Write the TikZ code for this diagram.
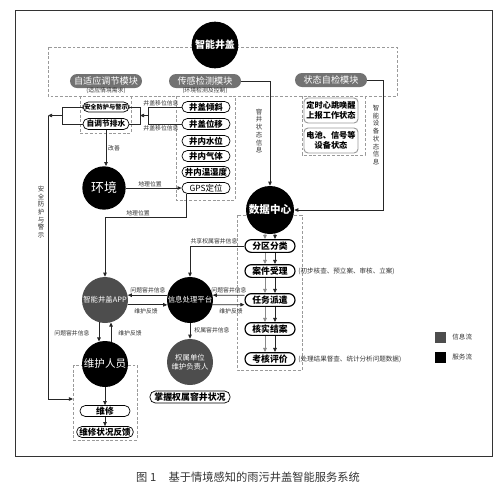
\documentclass[tikz,border=0pt]{standalone}
\usepackage{fontspec}
\setmainfont{Noto Sans CJK SC}
\usetikzlibrary{arrows.meta,calc}
\definecolor{modgray}{HTML}{727272}
\definecolor{cgray}{HTML}{4D4D4D}
\definecolor{agray}{HTML}{8A8A8A}
\definecolor{dgray}{HTML}{9A9A9A}
\definecolor{txtgray}{HTML}{333333}
\newcommand{\myfs}[1]{\fontsize{#1}{#1}\selectfont}
\newcommand{\vfs}{\fontsize{5.5}{6.6}\selectfont}
\begin{document}
\begin{tikzpicture}[x=0.03cm,y=-0.03cm,
  >={Triangle[length=3.5pt,width=3pt]},
  conn/.style={draw=black!85, line width=0.7pt},
  arr/.style={conn,->},
  garr/.style={draw=agray,line width=0.7pt,->},
  dbox/.style={draw=dgray, dash pattern=on 2.5pt off 1.5pt, line width=0.6pt},
  modpill/.style={rounded corners=0.21cm, fill=modgray, text=white, minimum width=2.16cm, minimum height=0.42cm, inner sep=0pt, font=\myfs{7.8}},
  spill/.style={rounded corners=0.16cm, draw=black, line width=0.6pt, fill=white, minimum width=1.44cm, minimum height=0.33cm, inner sep=0pt, font=\bfseries\myfs{7.2}},
  ppill/.style={rounded corners=0.19cm, draw=black, line width=1pt, fill=white, minimum width=1.5cm, minimum height=0.38cm, inner sep=0pt, font=\bfseries\myfs{7.5}},
  stbox/.style={rounded corners=0.12cm, draw=dgray, line width=0.8pt, fill=white, minimum width=1.62cm, minimum height=0.75cm, inner sep=0pt, align=center, font=\bfseries\fontsize{7}{8.5}\selectfont},
  bcirc/.style={circle, fill=black, text=white, minimum size=1.38cm, inner sep=0pt, align=center},
  gcirc/.style={bcirc, fill=cgray},
  lbl/.style={font=\myfs{5}, inner sep=1pt, text=txtgray},
  vlbl/.style={font=\vfs, inner sep=1pt, text=txtgray, align=center},
]
\useasboundingbox (0,0) rectangle (500,490);
% frame
\draw[line width=0.8pt, black!80] (15,10) rectangle (492,456);
% dashed boxes
\draw[dbox] (48,47) rectangle (397,96);
\draw[dbox] (80,96) -- (80,133) -- (131,133) -- (131,96);
\draw[dbox] (176,96) -- (176,200) -- (235,200) -- (235,96);
\draw[dbox] (302,96) -- (302,155) -- (365,155) -- (365,96);
\draw[dbox] (237,215) rectangle (302,370);
\draw[dbox] (73,365) rectangle (137,440);

% top
\node[bcirc, minimum size=1.4cm, font=\bfseries\myfs{8.5}] (top) at (215,45) {智能井盖};
\node[modpill] (modA) at (106,81) {自适应调节模块};
\node[modpill] (modB) at (205,81) {传感检测模块};
\node[modpill] (modC) at (331,80) {状态自检模块};
\node[lbl] (subA) at (106,90.5) {(适应情境需求)};
\node[lbl] (subB) at (205,90.5) {(环境检测及控制)};

% adaptive
\node[spill, minimum width=1.38cm, minimum height=0.3cm, font=\bfseries\myfs{5.3}] (safety) at (106,107) {安全防护与警示};
\node[spill, minimum width=1.38cm, font=\bfseries\myfs{6.6}] (drain) at (106,124) {自调节排水};

% sensors
\node[spill] (tilt) at (206,107) {井盖倾斜};
\node[spill] (shift) at (206,124) {井盖位移};
\node[spill] (level) at (206,141) {井内水位};
\node[spill] (gas) at (206,156) {井内气体};
\node[spill] (hum) at (206,172) {井内温湿度};
\node[spill, font=\myfs{7.2}] (gps) at (206,188) {GPS定位};

% state
\node[stbox] (st1) at (331,110.5) {定时心跳唤醒\\上报工作状态};
\node[stbox] (st2) at (331,140.5) {电池、信号等\\设备状态};

% circles
\node[bcirc, minimum size=1.3cm, font=\myfs{11}] (env) at (104,188) {环境};
\node[bcirc, minimum size=1.44cm, font=\bfseries\myfs{9}] (dc) at (270,210) {数据中心};
\node[gcirc, font=\myfs{6.3}] (app) at (105,300) {智能井盖APP};
\node[bcirc, font=\myfs{6.3}] (plat) at (190,300) {信息处理平台};
\node[gcirc, font=\fontsize{6.3}{8}\selectfont] (owner) at (190,362) {权属单位\\维护负责人};
\node[bcirc, font=\myfs{9}] (maint) at (105,364) {维护人员};

\node[spill, minimum width=2.4cm, minimum height=0.36cm, font=\bfseries\myfs{7.6}] (grasp) at (190,397) {掌握权属窨井状况};
\node[spill, minimum width=1.5cm, font=\bfseries\myfs{7.5}] (repair) at (105,411) {维修};
\node[spill, minimum width=1.7cm, font=\bfseries\myfs{7.3}] (fb) at (105,432) {维修状况反馈};

% process
\node[ppill] (cls) at (270,246) {分区分类};
\node[ppill] (acc) at (270,271) {案件受理};
\node[ppill] (task) at (270,300) {任务派遣};
\node[ppill] (ver) at (270,329) {核实结案};
\node[ppill] (eva) at (270,359) {考核评价};
\node[lbl, anchor=west, font=\myfs{5.6}] (accnote) at (297,271) {(初步核查、预立案、审核、立案)};
\node[lbl, anchor=west, font=\myfs{5.6}] (evanote) at (297,359) {(处理结果督查、统计分析问题数据)};

% connectors: top modules to data centre
\draw[arr] (modB.east) -| (dc.north);
\node[vlbl] (l1) at (259,131) {窨\\井\\状\\态\\信\\息};
\draw[arr] (modC.east) -- (383,80) |- (dc.east);
\node[vlbl] (l2) at (376,135) {智\\能\\设\\备\\状\\态\\信\\息};

% sensors to adaptive
\draw[conn] (tilt.west) -- (148,107) -- (148,124);
\draw[conn] (shift.west) -- (148,124);
\draw[arr] (148,115.5) -- (140,115.5);
\draw[conn] (safety.east) -- (140,107) -- (140,124) -- (drain.east);
\node[lbl] (l3) at (161,103) {井盖移位信息};
\node[lbl] (l4) at (161,128.5) {井盖移位信息};

% safety loop on left
\draw[conn] (safety.west) -- (62,107) -- (62,124) -- (drain.west);
\draw[arr] (62,115.5) -- (48,115.5);
\draw[arr] (48,115.5) |- (73,399);
\node[vlbl] (l5) at (41,212) {安\\全\\防\\护\\与\\警\\示};

% environment
\draw[arr] (drain.south) -- (env.north -| drain.south);
\node[lbl] (l6) at (114,148) {改善};
\draw[arr] (env.east) -- (gps.west);
\node[lbl] (l7) at (150,184) {地理位置};
\draw[arr] ([xshift=-0.6cm]gps.south) |- (105,217) -- (app.north);
\node[lbl] (l8) at (138,213) {地理位置};

% app <-> platform
\draw[arr] (plat.168) -- (app.12);
\draw[arr] (app.-12) -- (plat.192);
\node[lbl] (l9) at (148,290) {问题窨井信息};
\node[lbl] (l10) at (146,311) {维护反馈};

% platform <-> task
\draw[arr] ([yshift=0.14cm]task.west) -- (plat.12);
\draw[arr] (plat.-12) -- ([yshift=-0.14cm]task.west);
\node[lbl] (l11) at (229,290) {问题窨井信息};
\node[lbl] (l12) at (231,311) {维护反馈};

% shared info
\draw[arr] (cls.west) -| (plat.north);
\node[lbl] (l13) at (214,241.5) {共享权属窨井信息};

% platform to owner
\draw[arr] (plat.south) -- (owner.north);
\node[lbl] (l14) at (212,330) {权属窨井信息};

% app <-> maintenance
\draw[arr] (app.-105) -- (maint.105);
\draw[arr] (maint.75) -- (app.-75);
\node[lbl] (l15) at (72,333) {问题窨井信息};
\node[lbl] (l16) at (130,333) {维护反馈};

\draw[arr] (maint.south) -- (repair.north);
\draw[arr] (repair.south) -- (fb.north);

% process double arrows
\draw[garr] (dc.-102) -- ([xshift=-0.15cm]cls.north);
\draw[arr] (dc.-78) -- ([xshift=0.15cm]cls.north);
\foreach \a/\b in {cls/acc,acc/task,task/ver,ver/eva}{
  \draw[garr] ([xshift=-0.15cm]\a.south) -- ([xshift=-0.15cm]\b.north);
  \draw[arr] ([xshift=0.15cm]\a.south) -- ([xshift=0.15cm]\b.north);
}

% legend
\node[fill=cgray, minimum size=0.33cm, inner sep=0pt] (lg1) at (440,337) {};
\node[fill=black, minimum size=0.33cm, inner sep=0pt] (lg2) at (440,357) {};
\node[lbl, anchor=west, font=\myfs{5.6}] (lt1) at (451,337) {信息流};
\node[lbl, anchor=west, font=\myfs{5.6}] (lt2) at (451,357) {服务流};

% caption
\node[anchor=west, inner sep=0pt, text=txtgray, font=\myfs{9.6}] (cap) at (136,477) {图 1\hspace{1.1em}基于情境感知的雨污井盖智能服务系统};
\end{tikzpicture}
\end{document}
